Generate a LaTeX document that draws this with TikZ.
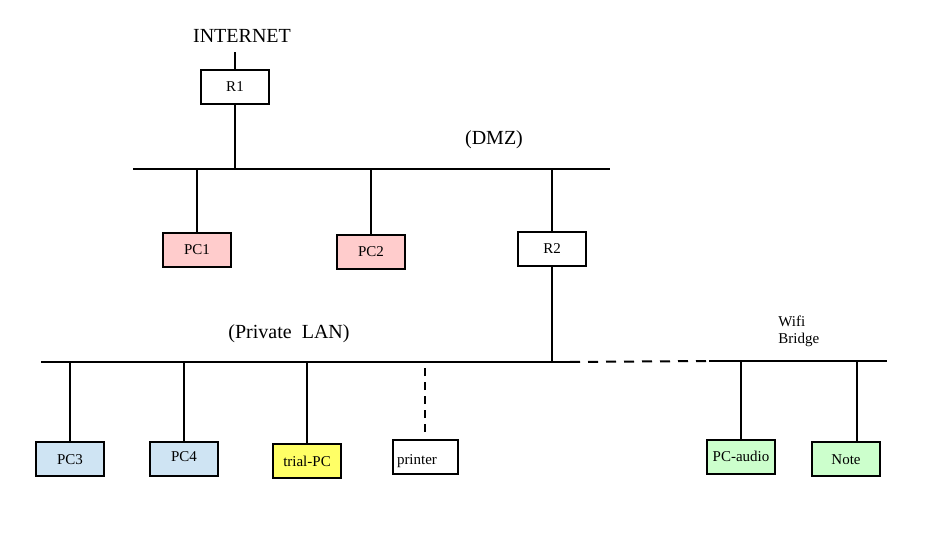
\documentclass[tikz,border=0pt]{standalone}
\usepackage{fontspec}
\setmainfont{Liberation Serif}
\definecolor{pcpink}{RGB}{255,204,204}
\definecolor{pcblue}{RGB}{207,228,243}
\definecolor{pcyellow}{RGB}{255,255,102}
\definecolor{pcgreen}{RGB}{204,255,204}
\begin{document}
\begin{tikzpicture}[x=1pt, y=-1pt, line width=2pt,
    box/.style={draw, minimum width=68pt, minimum height=34pt, inner sep=0pt,
      text height=12pt, text depth=2pt, font=\fontsize{15}{17}\selectfont},
    big/.style={font=\fontsize{20}{24}\selectfont}]
  \useasboundingbox (0,0) rectangle (930,540);
  % bus lines
  \coordinate (net) at (233,52);
  \coordinate (dmzL) at (133,169);
  \coordinate (dmzR) at (610,169);
  \coordinate (lanL) at (41,362);
  \coordinate (lanR) at (570,362);
  \coordinate (wifiL) at (709,361);
  \coordinate (wifiR) at (887,361);
  \draw (dmzL) -- (dmzR);
  \draw (lanL) -- (lanR);
  \draw[dash pattern=on 10pt off 8pt] (lanR) -- (wifiL);
  \draw (wifiL) -- (wifiR);
  % labels
  \node[big] (inet) at (242,36) {INTERNET};
  \node[big] (dmz) at (494,140) {(DMZ)};
  \node[big] (lan) at (289,334) {(Private\ \ LAN)};
  \node[anchor=west, align=left, font=\fontsize{15}{17}\selectfont] (wifi) at (774,331) {Wifi\\Bridge};
  % DMZ
  \node[box] (r1) at (235,87) {R1};
  \node[box, fill=pcpink] (pc1) at (197,250) {PC1};
  \node[box, fill=pcpink] (pc2) at (371,252) {PC2};
  \node[box] (r2) at (552,249) {R2};
  % private LAN
  \node[box, fill=pcblue] (pc3) at (70,459) {PC3};
  \node[box, fill=pcblue] (pc4) at (184,459) {\raisebox{2pt}{PC4}};
  \node[box, fill=pcyellow] (trial) at (307,461) {trial-PC};
  \node[box, minimum width=65pt, text width=56pt, align=left] (printer) at (425,457) {\raisebox{-2pt}{printer}};
  \node[box, fill=pcgreen] (pcaudio) at (741,457) {\raisebox{1pt}{PC-audio}};
  \node[box, fill=pcgreen] (note) at (846,459) {Note};
  % drops
  \draw (r1.north) -- (r1.north |- net);
  \draw (r1) -- (r1 |- dmzL);
  \draw (pc1) -- (pc1 |- dmzL);
  \draw (pc2) -- (pc2 |- dmzL);
  \draw (r2) -- (r2 |- dmzL);
  \draw (r2) -- (r2 |- lanL);
  \draw (pc3) -- (pc3 |- lanL);
  \draw (pc4) -- (pc4 |- lanL);
  \draw (trial) -- (trial |- lanL);
  \draw[dash pattern=on 8pt off 6pt, shorten <=7pt] (printer) -- (printer |- lanL);
  \draw (pcaudio) -- (pcaudio |- wifiL);
  \draw ([xshift=11pt]note.north) -- ([xshift=11pt]note.north |- wifiL);
\end{tikzpicture}
\end{document}
